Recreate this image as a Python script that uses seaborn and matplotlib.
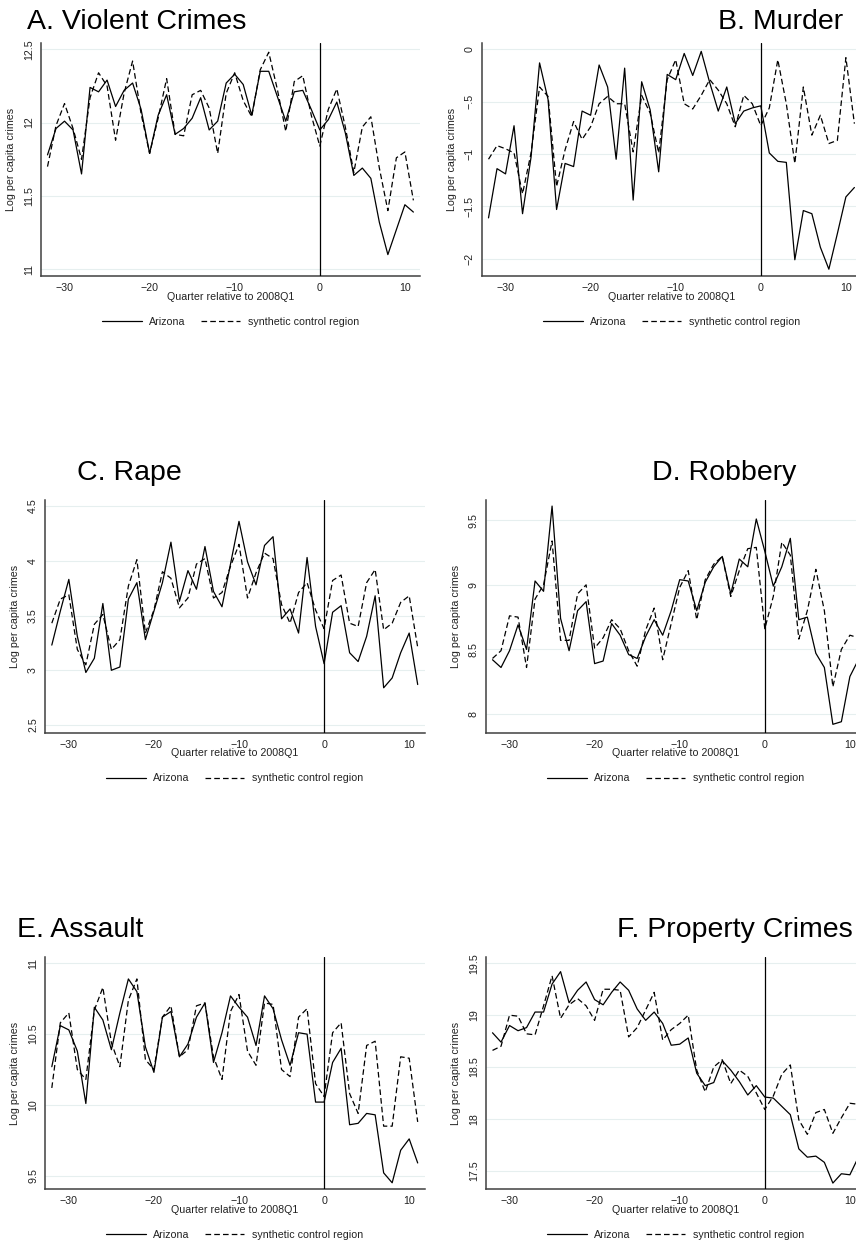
import numpy as np
import pandas as pd
import matplotlib
matplotlib.use("Agg")
import matplotlib.pyplot as plt
import seaborn as sns
from matplotlib.lines import Line2D

sns.set_theme(style="white")
plt.rcParams['font.family'] = ['Liberation Sans', 'DejaVu Sans']

quarters = list(range(-32, 12))

titles = ["A. Violent Crimes", "B. Murder", "C. Rape", "D. Robbery",
          "E. Assault", "F. Property Crimes"]

violent_az = [11.78, 11.96, 12.01, 11.95, 11.65, 12.24, 12.21, 12.29, 12.11, 12.22,
              12.27, 12.09, 11.79, 12.05, 12.19, 11.92, 11.96, 12.03, 12.17, 11.95,
              12.01, 12.27, 12.33, 12.26, 12.05, 12.35, 12.35, 12.18, 12.01, 12.21,
              12.22, 12.09, 11.95, 12.02, 12.14, 11.93, 11.64, 11.69, 11.62, 11.32,
              11.10, 11.27, 11.44, 11.39]
violent_syn = [11.70, 11.98, 12.13, 11.96, 11.75, 12.17, 12.34, 12.25, 11.88, 12.20,
               12.42, 12.06, 11.79, 12.03, 12.30, 11.92, 11.91, 12.19, 12.22, 12.10,
               11.79, 12.20, 12.34, 12.15, 12.04, 12.36, 12.48, 12.23, 11.94, 12.28,
               12.32, 12.05, 11.84, 12.09, 12.23, 11.97, 11.66, 11.97, 12.04, 11.69,
               11.40, 11.76, 11.80, 11.47]

murder_az = [-1.61, -1.14, -1.19, -0.73, -1.57, -1.03, -0.13, -0.48, -1.53, -1.09,
             -1.12, -0.59, -0.63, -0.15, -0.36, -1.05, -0.18, -1.44, -0.31, -0.58,
             -1.17, -0.24, -0.29, -0.04, -0.25, -0.02, -0.32, -0.59, -0.36, -0.71,
             -0.59, -0.56, -0.54, -0.99, -1.07, -1.08, -2.01, -1.54, -1.57, -1.89,
             -2.10, -1.76, -1.41, -1.32]
murder_syn = [-1.05, -0.92, -0.95, -0.99, -1.38, -0.99, -0.36, -0.45, -1.31, -0.96,
              -0.69, -0.86, -0.74, -0.52, -0.45, -0.52, -0.52, -0.98, -0.44, -0.61,
              -0.99, -0.29, -0.10, -0.52, -0.57, -0.44, -0.29, -0.39, -0.52, -0.74,
              -0.44, -0.52, -0.73, -0.56, -0.10, -0.52, -1.09, -0.36, -0.82, -0.63,
              -0.90, -0.87, -0.08, -0.71]

rape_az = [3.23, 3.54, 3.83, 3.31, 2.98, 3.11, 3.61, 3.00, 3.03, 3.65,
           3.80, 3.28, 3.54, 3.80, 4.17, 3.63, 3.91, 3.74, 4.13, 3.72,
           3.58, 3.97, 4.36, 3.99, 3.78, 4.14, 4.22, 3.47, 3.56, 3.34,
           4.03, 3.40, 3.06, 3.53, 3.59, 3.16, 3.08, 3.31, 3.68, 2.84,
           2.93, 3.16, 3.34, 2.87]
rape_syn = [3.43, 3.65, 3.69, 3.19, 3.05, 3.42, 3.51, 3.19, 3.28, 3.77,
            4.01, 3.34, 3.55, 3.90, 3.84, 3.57, 3.66, 3.97, 4.02, 3.66,
            3.71, 3.95, 4.15, 3.66, 3.89, 4.07, 4.02, 3.60, 3.43, 3.71,
            3.80, 3.55, 3.38, 3.82, 3.87, 3.43, 3.40, 3.80, 3.92, 3.37,
            3.43, 3.62, 3.68, 3.21]

robbery_az = [8.42, 8.36, 8.49, 8.69, 8.50, 9.03, 8.95, 9.61, 8.74, 8.49,
              8.80, 8.87, 8.39, 8.41, 8.70, 8.61, 8.46, 8.43, 8.60, 8.73,
              8.61, 8.80, 9.04, 9.03, 8.80, 9.02, 9.14, 9.22, 8.93, 9.20,
              9.14, 9.51, 9.26, 8.99, 9.14, 9.36, 8.73, 8.75, 8.47, 8.36,
              7.92, 7.94, 8.29, 8.42]
robbery_syn = [8.43, 8.49, 8.76, 8.75, 8.36, 8.89, 9.00, 9.34, 8.57, 8.57,
               8.93, 9.00, 8.51, 8.59, 8.73, 8.66, 8.49, 8.37, 8.65, 8.82,
               8.42, 8.70, 8.98, 9.11, 8.73, 9.04, 9.16, 9.22, 8.91, 9.11,
               9.28, 9.29, 8.66, 8.91, 9.33, 9.23, 8.58, 8.80, 9.12, 8.80,
               8.21, 8.50, 8.61, 8.59]

assault_az = [10.27, 10.56, 10.53, 10.38, 10.01, 10.69, 10.60, 10.39, 10.65, 10.89,
              10.80, 10.41, 10.23, 10.62, 10.66, 10.34, 10.43, 10.62, 10.72, 10.30,
              10.51, 10.77, 10.69, 10.62, 10.42, 10.77, 10.68, 10.46, 10.28, 10.51,
              10.50, 10.02, 10.02, 10.30, 10.40, 9.86, 9.87, 9.94, 9.93, 9.52,
              9.45, 9.68, 9.76, 9.59]
assault_syn = [10.12, 10.58, 10.65, 10.25, 10.18, 10.67, 10.83, 10.44, 10.27, 10.74,
               10.89, 10.32, 10.25, 10.62, 10.70, 10.34, 10.39, 10.70, 10.72, 10.34,
               10.18, 10.66, 10.78, 10.38, 10.28, 10.72, 10.71, 10.25, 10.20, 10.62,
               10.68, 10.15, 10.06, 10.51, 10.58, 10.08, 9.94, 10.42, 10.45, 9.85,
               9.85, 10.34, 10.33, 9.88]

property_az = [18.83, 18.74, 18.90, 18.85, 18.88, 19.03, 19.03, 19.30, 19.42, 19.12,
               19.24, 19.32, 19.15, 19.10, 19.22, 19.32, 19.24, 19.06, 18.95, 19.03,
               18.92, 18.71, 18.72, 18.78, 18.44, 18.32, 18.35, 18.56, 18.47, 18.36,
               18.23, 18.32, 18.21, 18.20, 18.12, 18.04, 17.71, 17.63, 17.64, 17.58,
               17.38, 17.47, 17.46, 17.63]
property_syn = [18.66, 18.70, 19.00, 18.99, 18.82, 18.81, 19.09, 19.38, 18.97, 19.10,
                19.16, 19.09, 18.95, 19.25, 19.25, 19.24, 18.79, 18.88, 19.05, 19.22,
                18.76, 18.86, 18.92, 19.00, 18.47, 18.26, 18.50, 18.57, 18.34, 18.47,
                18.41, 18.25, 18.09, 18.22, 18.43, 18.52, 17.99, 17.85, 18.06, 18.09,
                17.86, 18.01, 18.15, 18.14]

yticks = [[11, 11.5, 12, 12.5], [-2, -1.5, -1, -0.5, 0], [2.5, 3, 3.5, 4, 4.5],
          [8, 8.5, 9, 9.5], [9.5, 10, 10.5, 11], [17.5, 18, 18.5, 19, 19.5]]
ytick_labels = [["11", "11.5", "12", "12.5"], ["\u22122", "\u22121.5", "\u22121", "\u2212.5", "0"],
                ["2.5", "3", "3.5", "4", "4.5"], ["8", "8.5", "9", "9.5"],
                ["9.5", "10", "10.5", "11"], ["17.5", "18", "18.5", "19", "19.5"]]
xticks = [-30, -20, -10, 0, 10]
xtick_labels = ["\u221230", "\u221220", "\u221210", "0", "10"]
ylims = [(10.954, 12.543), (-2.165, 0.06), (2.43, 4.555), (7.855, 9.657),
         (9.404, 11.047), (17.32, 19.564)]

series_az = [violent_az, murder_az, rape_az, robbery_az, assault_az, property_az]
series_syn = [violent_syn, murder_syn, rape_syn, robbery_syn, assault_syn, property_syn]
names = ["Arizona", "synthetic control region"]

W, H = 856, 1245
fig = plt.figure(figsize=(W / 100, H / 100), dpi=100)

# (left, top, bottom) in pixels; all axes ~379 px wide
boxes = [(40.7, 43, 276), (481.7, 43, 276),
         (45, 500, 732.7), (485.7, 500, 732.7),
         (45, 956.7, 1189.3), (485.7, 956.7, 1189.3)]
title_pos = [(27, 29), (718, 29), (77, 480), (652, 480), (17, 937), (617, 937)]
axw = 379.5

fs = 7.7
for i in range(6):
    l, t, b = boxes[i]
    ax = fig.add_axes([l / W, 1 - b / H, axw / W, (b - t) / H])
    df = pd.DataFrame({
        "quarter": quarters * 2,
        "value": series_az[i] + series_syn[i],
        "series": [names[0]] * len(quarters) + [names[1]] * len(quarters),
    })
    sns.lineplot(data=df, x="quarter", y="value", style="series",
                 dashes={names[0]: "", names[1]: (4.5, 2.5)},
                 color="black", linewidth=0.9, ax=ax, legend=False)
    ax.axvline(0, color="black", linewidth=0.9, zorder=3)
    ax.set_xlim(-32.8, 11.8)
    ax.set_ylim(*ylims[i])
    ax.set_yticks(yticks[i])
    ax.set_yticklabels(ytick_labels[i])
    ax.set_xticks(xticks)
    ax.set_xticklabels(xtick_labels)
    ax.grid(axis="y", color="#e6efef", linewidth=0.8)
    ax.set_axisbelow(True)
    for s in ["top", "right"]:
        ax.spines[s].set_visible(False)
    for s in ["left", "bottom"]:
        ax.spines[s].set_color("#404040")
        ax.spines[s].set_linewidth(1.1)
    ax.tick_params(axis="both", direction="out", length=3.5, width=0.8,
                   color="#404040", labelsize=fs, pad=1.5, labelcolor="#222222")
    ax.tick_params(axis="y", labelrotation=90)
    for lab in ax.get_yticklabels():
        lab.set_va("center")
    ax.set_xlabel("Quarter relative to 2008Q1", fontsize=fs, color="#222222")
    ax.set_ylabel("Log per capita crimes", fontsize=fs, color="#222222")
    ax.yaxis.set_label_coords(-24.5 / axw, 0.5)
    ax.xaxis.set_label_coords(0.5, -15.7 / (b - t))
    handles = [Line2D([], [], color="black", linewidth=0.9),
               Line2D([], [], color="black", linewidth=0.9, linestyle=(0, (4.5, 2.5)))]
    ax.legend(handles, names, loc="center", bbox_to_anchor=(0.5, -45.7 / (b - t)),
              ncol=2, frameon=False, fontsize=fs, handlelength=3.7,
              handletextpad=0.7, columnspacing=1.4, labelcolor="#222222")
    tx, ty = title_pos[i]
    fig.text(tx / W, 1 - ty / H, titles[i], fontsize=20.5, ha="left", va="baseline",
             color="black")

fig.savefig("out.png", dpi=100)
